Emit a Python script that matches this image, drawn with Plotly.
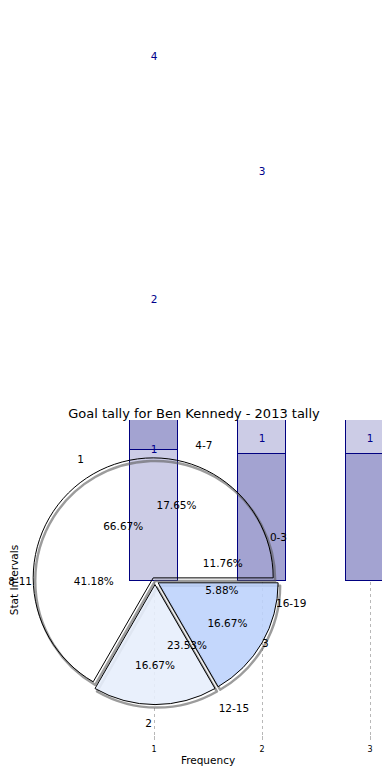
import plotly.graph_objects as go

# ---------------- data ----------------
goal_labels = ["1", "2", "3"]
goal_counts = [4, 1, 1]

interval_labels = ["0-3", "4-7", "8-11", "12-15", "16-19"]
interval_counts = [2, 3, 7, 4, 1]

bar_x = [1, 2, 3]
bar_lower = [1.0, 0.97, 0.97]
bar_upper = [3.0, 2.03, 1.03]

label_x = [1, 2, 1, 1, 2, 3]
label_y = [4.0, 3.12, 2.14, 1.0, 1.08, 1.08]
label_text = ["4", "3", "2", "1", "1", "1"]

title_text = "Goal tally for Ben Kennedy - 2013 tally"

# ---------------- styling / layout constants ----------------
OFF = 8                      # page body margin seen in the screenshot
W_FIG, H_FIG = 390, 780
L, R, T, B = 10, 0, 0, 48
PW, PH = W_FIG - L - R, H_FIG - T - B
BAR_TOP = 412                # page y where the bar panel starts
FONT = "DejaVu Sans"
FS = 10.5
LIGHT = "#ccccE6"
DARK = "#a3a3d1"
NAVY = "#000080"

PIE_CX, PIE_CY = 155 - OFF, 581 - OFF   # page coordinates of the pie centre
PIE_R = 120
PULL = 0.03
R_PCT_SMALL = 48      # ring used for the percentages of the thin wedges
R_LAB_SIDE = 120      # ring for labels at the sides
R_LAB_TB = 136        # ring for labels at top / bottom
PX_PER_X = 108
PX_PER_Y = 131


def dom(half, dx=0, dy=0):
    cx, cy = PIE_CX + dx, PIE_CY + dy
    return dict(
        x=[(cx - half - L) / PW, (cx + half - L) / PW],
        y=[(T + PH - (cy + half)) / PH, (T + PH - (cy - half)) / PH],
    )


def start_rotation(values):
    # first wedge begins at 3 o'clock and runs counterclockwise
    return 90 - 360 * values[0] / sum(values)


def pick(labels, chosen, tmpl):
    return [tmpl if lab in chosen else "" for lab in labels]


PCT = "%{percent:.2%}"
LAB = "%{label}"
txtfont = dict(family=FONT, size=FS, color="black")


def clear(n):
    return dict(colors=["rgba(0,0,0,0)"] * n, line=dict(width=0))


fig = go.Figure()

# bars
fig.add_trace(go.Bar(
    x=bar_x, y=bar_lower, width=0.45,
    marker=dict(color=[LIGHT, DARK, DARK], line=dict(color=NAVY, width=1)),
    hoverinfo="skip",
))
fig.add_trace(go.Bar(
    x=bar_x, y=bar_upper, width=0.45,
    marker=dict(color=[DARK, LIGHT, LIGHT], line=dict(color=NAVY, width=1)),
    hoverinfo="skip",
))
# value labels (live on a full-height twin panel with the same scale)
fig.add_trace(go.Scatter(
    x=label_x, y=label_y, text=label_text, mode="text",
    xaxis="x2", yaxis="y2",
    textfont=dict(family=FONT, size=FS, color="#00008b"),
    hoverinfo="skip",
))

common = dict(sort=False, direction="counterclockwise",
              showlegend=False, hoverinfo="skip")
rot1 = start_rotation(goal_counts)
rot2 = start_rotation(interval_counts)

# shadow of first pie
fig.add_trace(go.Pie(
    labels=goal_labels, values=goal_counts, pull=[PULL] * 3, rotation=rot1,
    domain=dom(PIE_R * (1 + PULL), 2, 3),
    marker=dict(colors=["rgba(0,0,0,0)"] * 3,
                line=dict(color="rgba(90,90,90,0.6)", width=2.5)),
    textinfo="none", **common,
))
# first pie: wedges + percentages
fig.add_trace(go.Pie(
    labels=goal_labels, values=goal_counts, pull=[PULL] * 3, rotation=rot1,
    domain=dom(PIE_R * (1 + PULL)),
    marker=dict(colors=["rgba(255,255,255,0)", "rgba(231,238,252,0.9)", "rgba(188,210,252,0.88)"],
                line=dict(color="black", width=1)),
    texttemplate=PCT, textposition="inside", insidetextorientation="horizontal",
    textfont=txtfont, **common,
))
# first pie: labels
fig.add_trace(go.Pie(
    labels=goal_labels, values=goal_counts, rotation=rot1,
    domain=dom(R_LAB_SIDE), marker=clear(3),
    texttemplate=pick(goal_labels, ["3"], LAB), textposition="outside",
    textfont=txtfont, **common,
))
fig.add_trace(go.Pie(
    labels=goal_labels, values=goal_counts, rotation=rot1,
    domain=dom(R_LAB_TB), marker=clear(3),
    texttemplate=pick(goal_labels, ["1", "2"], LAB), textposition="outside",
    textfont=txtfont, **common,
))
# second pie: percentages
fig.add_trace(go.Pie(
    labels=interval_labels, values=interval_counts, rotation=rot2,
    domain=dom(PIE_R), marker=clear(5),
    texttemplate=pick(interval_labels, ["4-7", "8-11", "12-15"], PCT),
    textposition="inside", insidetextorientation="horizontal",
    textfont=txtfont, **common,
))
fig.add_trace(go.Pie(
    labels=interval_labels, values=interval_counts, rotation=rot2,
    domain=dom(R_PCT_SMALL), marker=clear(5),
    texttemplate=pick(interval_labels, ["0-3", "16-19"], PCT),
    textposition="outside", textfont=txtfont, **common,
))
# second pie: labels
fig.add_trace(go.Pie(
    labels=interval_labels, values=interval_counts, rotation=rot2,
    domain=dom(R_LAB_SIDE), marker=clear(5),
    texttemplate=pick(interval_labels, ["0-3", "8-11", "16-19"], LAB),
    textposition="outside", textfont=txtfont, **common,
))
fig.add_trace(go.Pie(
    labels=interval_labels, values=interval_counts, rotation=rot2,
    domain=dom(R_LAB_TB), marker=clear(5),
    texttemplate=pick(interval_labels, ["4-7", "12-15"], LAB),
    textposition="outside", textfont=txtfont, **common,
))

x0 = 1 - (154 - OFF - L) / PX_PER_X
x1 = x0 + PW / PX_PER_X
bar_frac = (T + PH - BAR_TOP) / PH
zero_px = PIE_CY                       # bars stand on the pie's centre line
y_lo = -(T + PH - zero_px) / PX_PER_Y
y_hi_bar = (zero_px - BAR_TOP) / PX_PER_Y
y_hi_full = (zero_px - T) / PX_PER_Y

fig.update_layout(
    template="none",
    width=W_FIG, height=H_FIG,
    margin=dict(l=L, r=R, t=T, b=B, autoexpand=False),
    paper_bgcolor="white", plot_bgcolor="rgba(0,0,0,0)",
    barmode="stack", bargap=0, showlegend=False,
    font=dict(family=FONT, size=FS, color="black"),
    uniformtext=dict(minsize=FS, mode="show"),
    title=dict(text=title_text, x=(194 - OFF) / W_FIG, xanchor="center", xref="container",
               y=1 - (413 - OFF) / H_FIG, yanchor="middle", yref="container",
               font=dict(family=FONT, size=13, color="black")),
    xaxis=dict(range=[x0, x1], tickvals=[1, 2, 3], ticktext=["1", "2", "3"],
               automargin=False, anchor="y",
               showgrid=True, gridcolor="#b8b8b8", griddash="dot", gridwidth=1,
               ticks="inside", ticklen=4, tickcolor="#b8b8b8",
               ticklabelstandoff=3,
               tickfont=dict(family=FONT, size=8, color="black"),
               showline=False, zeroline=False,
               title=dict(text="Frequency", standoff=3,
                          font=dict(family=FONT, size=FS, color="black"))),
    yaxis=dict(range=[y_lo, y_hi_bar], domain=[0, bar_frac], anchor="x",
               showticklabels=False, ticks="", showgrid=False,
               automargin=False, zeroline=False, showline=False,
               title=dict(text="Stat Intervals", standoff=6,
                          font=dict(family=FONT, size=FS, color="black"))),
    xaxis2=dict(range=[x0, x1], anchor="y2", visible=False, showgrid=False,
                zeroline=False, automargin=False),
    yaxis2=dict(range=[y_lo, y_hi_full], domain=[0, 1], anchor="x2",
                visible=False, showgrid=False, zeroline=False, automargin=False),
)

fig.write_html("out.html")
